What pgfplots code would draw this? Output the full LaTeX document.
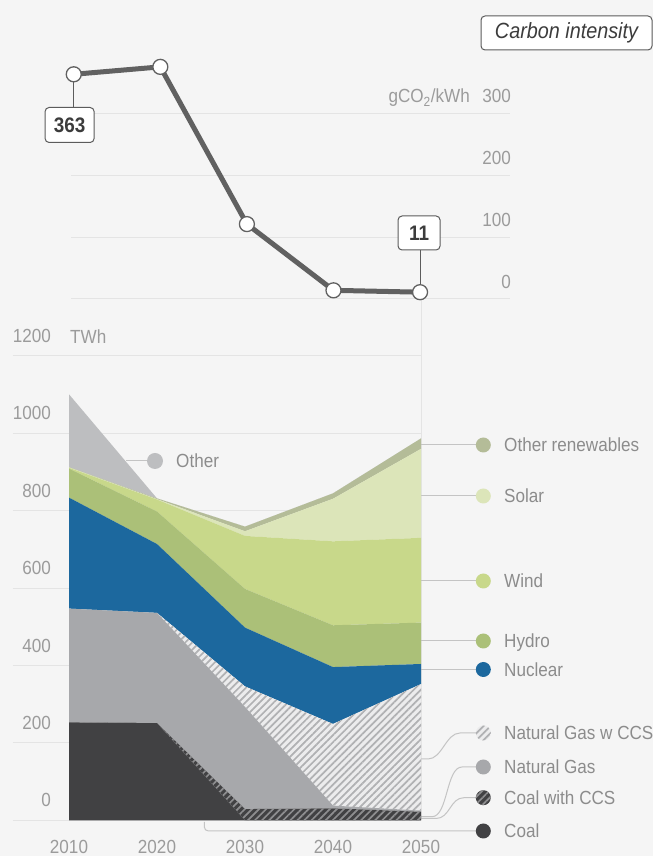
\documentclass[border=0pt]{standalone}
\usepackage{fontspec}
\setmainfont{Liberation Sans}[FakeStretch=0.9]
\usepackage{pgfplots}
\pgfplotsset{compat=1.18}
\usepackage{pgfplotstable}
\usetikzlibrary{patterns.meta}

\definecolor{bg}{HTML}{F5F5F5}
\definecolor{gridc}{HTML}{E4E4E4}
\definecolor{tickc}{HTML}{9B9B9B}
\definecolor{txt}{HTML}{8C8C8C}
\definecolor{dtxt}{HTML}{3C3C3C}
\definecolor{boxc}{HTML}{5C5C5C}
\definecolor{coal}{HTML}{414143}
\definecolor{coalstripe}{HTML}{8E8E90}
\definecolor{gas}{HTML}{A7A8AB}
\definecolor{gasccsbg}{HTML}{ECECED}
\definecolor{gasstripe}{HTML}{B0B1B3}
\definecolor{nuclear}{HTML}{1C689E}
\definecolor{hydro}{HTML}{ABC078}
\definecolor{wind}{HTML}{C8D88A}
\definecolor{solar}{HTML}{DCE5B9}
\definecolor{otherren}{HTML}{B4BC98}
\definecolor{other}{HTML}{BDBEC0}
\definecolor{linec}{HTML}{616161}
\definecolor{leader}{HTML}{C4C4C4}

\newcommand{\fs}{\fontsize{19}{22}\selectfont}

\pgfplotstableread{
year coal coalccs gas gasccs nuclear hydro wind solar otherren other
2010 253 0  294 0   287 75  2   1   1  188
2020 251 0  285 0   178 84  31  1   2  0
2030 0   29 264 53  152 100 137 12  12 0
2040 0   31 7   211 147 108 217 110 14 0
2050 0   22 3   327 52  107 219 230 27 0
}\energy

\tikzset{
  box/.style={draw=boxc, fill=white, rounded corners=4pt, line width=1pt, inner sep=0pt, text=dtxt},
  lead/.style={draw=leader, line width=1pt},
  gasccspat/.style={pattern={Lines[angle=45,distance=5pt,line width=1.7pt]}, pattern color=gasstripe},
  coalccspat/.style={pattern={Lines[angle=45,distance=5pt,line width=1.7pt]}, pattern color=coalstripe},
}

\begin{document}
\begin{tikzpicture}
\fill[bg] (0,0) rectangle (653pt,856pt);
\path[use as bounding box] (0,0) rectangle (653pt,856pt);

\begin{scope}[shift={(0pt,856pt)},x=1pt,y=-1pt]
  \draw[gridc, line width=1pt] (421,299) -- (421,820.3);
  % leaders
  \draw[lead] (421,445) -- (476,445);
  \draw[lead] (421,496) -- (476,496);
  \draw[lead] (421,581) -- (476,581);
  \draw[lead] (421,641) -- (476,641);
  \draw[lead] (421,669.5) -- (476,669.5);
  \draw[lead] (421,759) -- (428,759) .. controls (442,759) and (446,733) .. (460,733) -- (476,733);
  \draw[lead] (421,816.7) -- (432,816.7) .. controls (448,816.7) and (446,767) .. (462,767) -- (476,767);
  \draw[lead] (421,818.5) -- (436,818.5) .. controls (450,818.5) and (450,797.7) .. (464,797.7) -- (476,797.7);
  \draw[lead] (204.3,822) -- (204.3,827) to[out=-90,in=180] (208.5,831) -- (476,831);
  \draw[lead] (126,461) -- (148,461);
\end{scope}

% ---------- bottom stacked area chart ----------
\begin{axis}[
  at={(13pt,35.7pt)}, anchor=south west, scale only axis,
  width=408pt, height=464.3pt,
  xmin=2003.636, xmax=2050, ymin=0, ymax=1200,
  stack plots=y,
  axis line style={draw=none}, tick style={draw=none},
  ymajorgrids, major grid style={gridc, line width=1pt},
  xtick={2010,2020,2030,2040,2050},
  ytick={0,200,400,600,800,1000,1200},
  /pgf/number format/1000 sep={},
  /pgf/number format/assume math mode=true,
  ticklabel style={font=\fs, text=tickc, inner sep=0pt},
  yticklabel style={anchor=east, xshift=38pt, yshift=20pt},
  xticklabel style={anchor=center, yshift=-26.6pt},
]
\addplot[fill=coal, draw=none] table[x=year,y=coal]{\energy} \closedcycle;
\addplot[fill=coal, draw=none, postaction={coalccspat}] table[x=year,y=coalccs]{\energy} \closedcycle;
\addplot[fill=gas, draw=none] table[x=year,y=gas]{\energy} \closedcycle;
\addplot[fill=gasccsbg, draw=none, postaction={gasccspat}] table[x=year,y=gasccs]{\energy} \closedcycle;
\addplot[fill=nuclear, draw=none] table[x=year,y=nuclear]{\energy} \closedcycle;
\addplot[fill=hydro, draw=none] table[x=year,y=hydro]{\energy} \closedcycle;
\addplot[fill=wind, draw=none] table[x=year,y=wind]{\energy} \closedcycle;
\addplot[fill=solar, draw=none] table[x=year,y=solar]{\energy} \closedcycle;
\addplot[fill=otherren, draw=none] table[x=year,y=otherren]{\energy} \closedcycle;
\addplot[fill=other, draw=none] table[x=year,y=other]{\energy} \closedcycle;
\end{axis}

% ---------- top carbon intensity chart ----------
\begin{axis}[
  at={(71pt,557pt)}, anchor=south west, scale only axis,
  width=439pt, height=185.7pt,
  xmin=2009.682, xmax=2060.39, ymin=0, ymax=300,
  axis line style={draw=none}, tick style={draw=none},
  ymajorgrids, major grid style={gridc, line width=1pt},
  xtick=\empty, ytick={0,100,200,300},
  yticklabel pos=right,
  /pgf/number format/assume math mode=true,
  ticklabel style={font=\fs, text=tickc, inner sep=0pt},
  yticklabel style={anchor=east, xshift=1pt, yshift=17.5pt},
  clip=false,
]
\draw[boxc, line width=1pt] (axis cs:2010,363) -- ++(0pt,-34pt);
\draw[boxc, line width=1pt] (axis cs:2050,11) -- ++(0pt,42pt);
\addplot[linec, line width=5pt, line join=round, mark=*, mark size=7.5pt,
  mark options={fill=white, draw=linec, line width=1.3pt}]
  coordinates {(2010,363) (2020,375) (2030,121) (2040,14) (2050,11)};
\node[box, minimum width=49pt, minimum height=35pt, font=\fontsize{21}{24}\selectfont\bfseries]
  at ([xshift=-4.15pt,yshift=-50.7pt]axis cs:2010,363) {363};
\node[box, minimum width=42pt, minimum height=34pt, font=\fontsize{21}{24}\selectfont\bfseries]
  at ([xshift=-1pt,yshift=59.2pt]axis cs:2050,11) {11};
\end{axis}

\begin{scope}[shift={(0pt,856pt)},x=1pt,y=-1pt]
  \node[anchor=base east, inner sep=0pt, font=\fs, text=tickc] at ([yshift=-6.8pt]470,96) {gCO\textsubscript{2}/kWh};
  \node[box, minimum width=171pt, minimum height=34pt, font=\fontsize{22}{24}\selectfont\itshape] at (566.5,33) {Carbon intensity};
  \node[anchor=base west, inner sep=0pt, font=\fs, text=tickc] at ([yshift=-6.8pt]70,337) {TWh};
  % Other label
  \fill[other] (155,461) circle (8pt);
  \node[anchor=base west, inner sep=0pt, font=\fs, text=txt] at ([yshift=-6.8pt]176,461) {Other};
  % legend
  \fill[otherren] (483.3,445) circle (7.5pt);
  \node[anchor=base west, inner sep=0pt, font=\fs, text=txt] at ([yshift=-6.8pt]504,445) {Other renewables};
  \fill[solar] (483.3,496) circle (7.5pt);
  \node[anchor=base west, inner sep=0pt, font=\fs, text=txt] at ([yshift=-6.8pt]504,496) {Solar};
  \fill[wind] (483.3,581) circle (7.5pt);
  \node[anchor=base west, inner sep=0pt, font=\fs, text=txt] at ([yshift=-6.8pt]504,581) {Wind};
  \fill[hydro] (483.3,641) circle (7.5pt);
  \node[anchor=base west, inner sep=0pt, font=\fs, text=txt] at ([yshift=-6.8pt]504,641) {Hydro};
  \fill[nuclear] (483.3,669.5) circle (7.5pt);
  \node[anchor=base west, inner sep=0pt, font=\fs, text=txt] at ([yshift=-6.8pt]504,669.5) {Nuclear};
  \fill[gasccsbg] (483.3,733) circle (7.5pt);
  \fill[gasccspat] (483.3,733) circle (7.5pt);
  \node[anchor=base west, inner sep=0pt, font=\fs, text=txt] at ([yshift=-6.8pt]504,733) {Natural Gas w CCS};
  \fill[gas] (483.3,767) circle (7.5pt);
  \node[anchor=base west, inner sep=0pt, font=\fs, text=txt] at ([yshift=-6.8pt]504,767) {Natural Gas};
  \fill[coal] (483.3,797.7) circle (7.5pt);
  \fill[coalccspat] (483.3,797.7) circle (7.5pt);
  \node[anchor=base west, inner sep=0pt, font=\fs, text=txt] at ([yshift=-6.8pt]504,797.7) {Coal with CCS};
  \fill[coal] (483.3,831) circle (7.5pt);
  \node[anchor=base west, inner sep=0pt, font=\fs, text=txt] at ([yshift=-6.8pt]504,831) {Coal};
\end{scope}
\end{tikzpicture}
\end{document}
